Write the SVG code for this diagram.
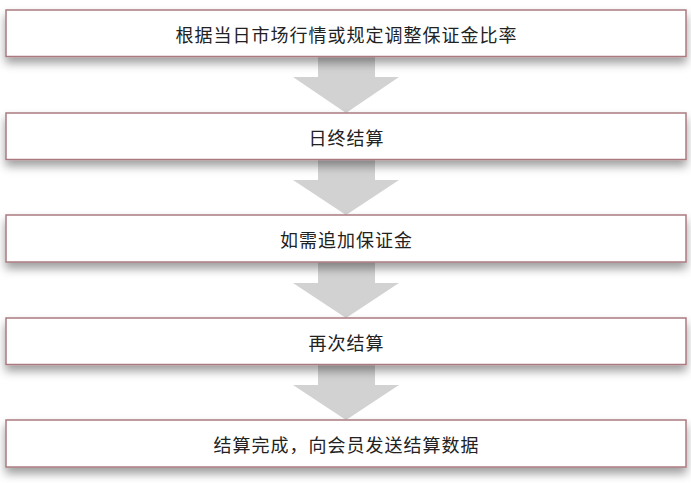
<svg xmlns="http://www.w3.org/2000/svg" width="691" height="483" viewBox="0 0 691 483">
<defs>
<filter id="sh" x="-5%" y="-40%" width="110%" height="200%">
<feDropShadow dx="0" dy="6" stdDeviation="5" flood-color="#000" flood-opacity="0.38"/>
</filter>
</defs>
<style>
.box{fill:#fff;stroke:#ab7a80;stroke-width:1.5;filter:url(#sh)}
.arr{fill:#d2d2d2}
.t{font-family:"Noto Sans CJK SC","Noto Sans",sans-serif;font-size:18px;fill:#222;text-anchor:middle;letter-spacing:1px}
</style>
<g id="connectors">
<path class="arr" d="M318,56 H375 V77 H399 L346,113 L293,77 H318 Z"/>
<path class="arr" d="M318,159 H375 V180 H399 L346,215 L293,180 H318 Z"/>
<path class="arr" d="M318,262 H375 V283 H399 L346,318 L293,283 H318 Z"/>
<path class="arr" d="M318,364 H375 V385 H399 L346,420 L293,385 H318 Z"/>
</g>
<g id="n1"><rect class="box" x="6" y="10" width="680" height="46.5"/><text class="t" x="346.5" y="41.5">根据当日市场行情或规定调整保证金比率</text></g>
<g id="n2"><rect class="box" x="6" y="113" width="680" height="46.5"/><text class="t" x="346.5" y="144.5">日终结算</text></g>
<g id="n3"><rect class="box" x="6" y="215" width="680" height="47"/><text class="t" x="346.5" y="246.5">如需追加保证金</text></g>
<g id="n4"><rect class="box" x="6" y="318" width="680" height="46.5"/><text class="t" x="346.5" y="349.5">再次结算</text></g>
<g id="n5"><rect class="box" x="6" y="420" width="680" height="47"/><text class="t" x="346.5" y="451.5">结算完成，向会员发送结算数据</text></g>
</svg>
